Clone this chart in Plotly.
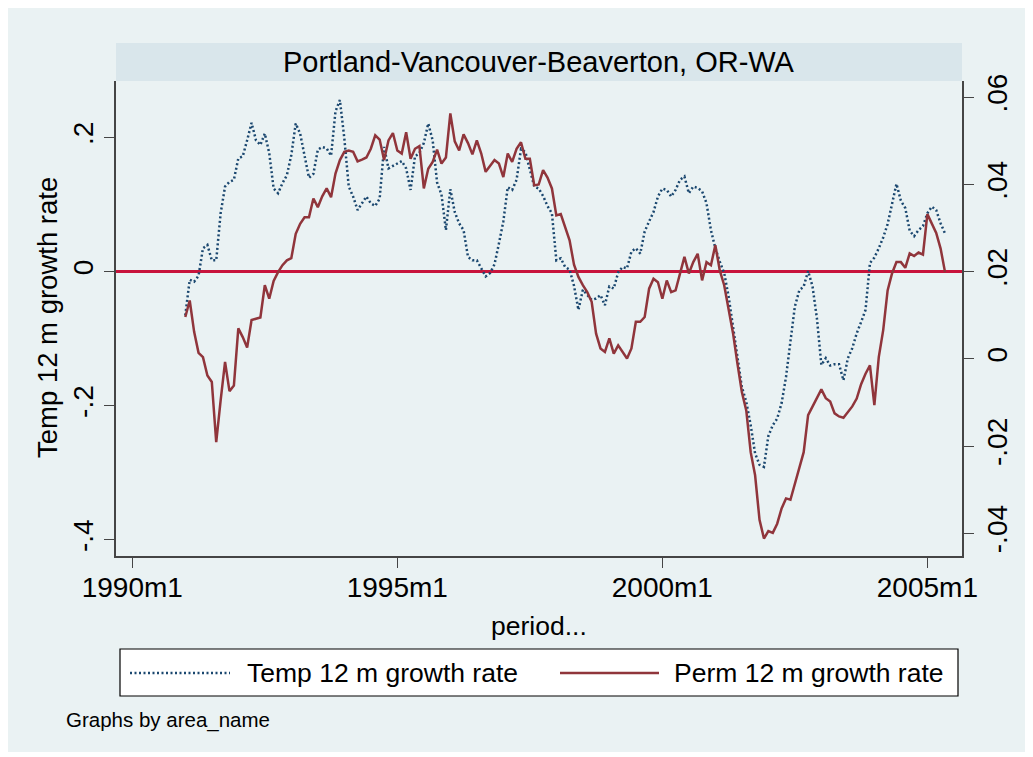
import plotly.graph_objects as go

W, H = 1033, 757
OFF = 8  # page body margin that shifts the whole figure

# months counted from 1990m1 (0 = 1990m1), first observation 1991m1
start_month = 12

temp_growth = [
    -0.065, -0.012, -0.015, -0.006, 0.035, 0.040, 0.017, 0.017, 0.087, 0.127, 0.134, 0.137,
    0.169, 0.172, 0.196, 0.222, 0.196, 0.189, 0.206, 0.177, 0.124, 0.117, 0.132, 0.144,
    0.174, 0.221, 0.206, 0.172, 0.140, 0.146, 0.182, 0.186, 0.184, 0.173, 0.239, 0.256,
    0.199, 0.127, 0.112, 0.092, 0.102, 0.112, 0.102, 0.098, 0.109, 0.186, 0.154, 0.158,
    0.161, 0.165, 0.154, 0.122, 0.172, 0.177, 0.192, 0.221, 0.196, 0.133, 0.115, 0.062,
    0.123, 0.089, 0.072, 0.062, 0.022, 0.017, 0.017, 0.005, -0.007, -0.002, 0.011, 0.042,
    0.075, 0.126, 0.122, 0.137, 0.183, 0.178, 0.154, 0.127, 0.124, 0.113, 0.098, 0.087,
    0.017, 0.020, 0.007, 0.003, -0.021, -0.057, -0.027, -0.035, -0.042, -0.040, -0.035, -0.050,
    -0.022, -0.025, -0.001, 0.007, 0.005, 0.030, 0.035, 0.027, 0.060, 0.075, 0.089, 0.112,
    0.124, 0.122, 0.112, 0.122, 0.137, 0.142, 0.117, 0.127, 0.125, 0.120, 0.102, 0.062,
    0.035, 0.015, -0.002, -0.037, -0.084, -0.127, -0.172, -0.194, -0.229, -0.271, -0.288, -0.291,
    -0.245, -0.229, -0.219, -0.196, -0.157, -0.104, -0.052, -0.028, -0.022, 0.001, -0.022, -0.070,
    -0.139, -0.129, -0.140, -0.138, -0.138, -0.162, -0.129, -0.114, -0.092, -0.075, -0.057, 0.013,
    0.021, 0.035, 0.051, 0.071, 0.099, 0.131, 0.106, 0.095, 0.061, 0.053, 0.062, 0.068,
    0.087, 0.097, 0.092, 0.072, 0.057,
]

perm_growth = [
    0.0096, 0.0134, 0.0062, 0.0014, 0.0004, -0.0038, -0.0053, -0.0191, -0.0095, -0.0007, -0.0074, -0.0061,
    0.0070, 0.0050, 0.0026, 0.0089, 0.0092, 0.0095, 0.0169, 0.0138, 0.0179, 0.0199, 0.0215, 0.0226,
    0.0231, 0.0287, 0.0310, 0.0325, 0.0325, 0.0368, 0.0348, 0.0373, 0.0391, 0.0371, 0.0425, 0.0456,
    0.0475, 0.0478, 0.0475, 0.0453, 0.0457, 0.0462, 0.0482, 0.0513, 0.0503, 0.0456, 0.0501, 0.0518,
    0.0478, 0.0471, 0.0520, 0.0459, 0.0482, 0.0488, 0.0391, 0.0436, 0.0452, 0.0480, 0.0448, 0.0462,
    0.0563, 0.0499, 0.0478, 0.0515, 0.0495, 0.0469, 0.0501, 0.0471, 0.0429, 0.0442, 0.0456, 0.0448,
    0.0417, 0.0471, 0.0452, 0.0482, 0.0497, 0.0459, 0.0459, 0.0398, 0.0400, 0.0433, 0.0416, 0.0391,
    0.0329, 0.0332, 0.0304, 0.0272, 0.0216, 0.0188, 0.0169, 0.0153, 0.0131, 0.0058, 0.0024, 0.0016,
    0.0047, 0.0012, 0.0031, 0.0016, 0.0001, 0.0024, 0.0085, 0.0085, 0.0096, 0.0161, 0.0184, 0.0176,
    0.0138, 0.0180, 0.0153, 0.0157, 0.0196, 0.0234, 0.0196, 0.0222, 0.0241, 0.0180, 0.0222, 0.0215,
    0.0261, 0.0203, 0.0169, 0.0111, 0.0059, -0.0011, -0.0076, -0.0118, -0.0214, -0.0267, -0.0369, -0.0412,
    -0.0395, -0.0399, -0.0378, -0.0343, -0.0320, -0.0323, -0.0286, -0.0248, -0.0214, -0.0129, -0.0110, -0.0091,
    -0.0070, -0.0090, -0.0098, -0.0125, -0.0132, -0.0135, -0.0122, -0.0109, -0.0091, -0.0058, -0.0034, -0.0015,
    -0.0106, 0.0004, 0.0066, 0.0157, 0.0196, 0.0222, 0.0222, 0.0209, 0.0242, 0.0236, 0.0244, 0.0239,
    0.0332, 0.0310, 0.0289, 0.0253, 0.0199,
]

tick_months = [0, 60, 120, 180]
tick_labels = ["1990m1", "1995m1", "2000m1", "2005m1"]
left_ticks = [-0.4, -0.2, 0, 0.2]
left_labels = ["-.4", "-.2", "0", ".2"]
right_ticks = [-0.04, -0.02, 0, 0.02, 0.04, 0.06]
right_labels = ["-.04", "-.02", "0", ".02", ".04", ".06"]

area_name = "Portland-Vancouver-Beaverton, OR-WA"
temp_name = "Temp 12 m growth rate"
perm_name = "Perm 12 m growth rate"

months = list(range(start_month, start_month + len(temp_growth)))

NAVY = "#1a476f"
MAROON = "#90353b"
CRIMSON = "#c8143c"
BG = "#eaf2f3"
STRIP = "#d9e6eb"
AXIS = "#454545"
FONT = "Liberation Sans, Arial, sans-serif"


def fx(px):
    return (px - OFF) / W


def fy(py):
    return 1 - (py - OFF) / H


fig = go.Figure()
fig.add_trace(go.Scatter(x=months, y=temp_growth, name=temp_name, mode="lines",
                         line=dict(color=NAVY, width=2.5, dash="2px,2.5px"), yaxis="y"))
fig.add_trace(go.Scatter(x=months, y=perm_growth, name=perm_name, mode="lines",
                         line=dict(color=MAROON, width=2.5), yaxis="y2"))

axis_common = dict(showline=True, linecolor=AXIS, linewidth=1.5, ticks="outside",
                   ticklen=10, tickwidth=1.2, tickcolor=AXIS,
                   tickfont=dict(family=FONT, size=28, color="black"))

fig.update_layout(
    width=W, height=H,
    margin=dict(l=0, r=0, t=0, b=0, autoexpand=False),
    paper_bgcolor="white", plot_bgcolor="white",
    showlegend=False,
    xaxis=dict(domain=[fx(116), fx(962)], range=[-3.69, 187.84],
               tickvals=tick_months, ticktext=tick_labels, showgrid=False,
               zeroline=False, ticklabelstandoff=-4, **axis_common),
    yaxis=dict(domain=[fy(556), fy(81)], range=[-0.424, 0.2844],
               tickvals=left_ticks, ticktext=left_labels, tickangle=-90,
               showgrid=True, gridcolor=BG, gridwidth=2,
               zeroline=True, zerolinecolor=CRIMSON, zerolinewidth=2.5,
               **axis_common),
    yaxis2=dict(domain=[fy(556), fy(81)], range=[-0.04521, 0.06374], overlaying="y",
                side="right", anchor="x", tickvals=right_ticks, ticktext=right_labels,
                tickangle=-90, showgrid=False, zeroline=False, **axis_common),
)

shapes = [
    dict(type="rect", xref="paper", yref="paper", x0=fx(8), x1=fx(1028), y0=fy(752), y1=fy(8),
         fillcolor=BG, line=dict(width=0), layer="below"),
    dict(type="rect", xref="paper", yref="paper", x0=fx(116), x1=fx(962), y0=fy(81), y1=fy(43),
         fillcolor=STRIP, line=dict(width=0), layer="below"),
    # legend box and keys
    dict(type="rect", xref="paper", yref="paper", x0=fx(120), x1=fx(958), y0=fy(696), y1=fy(649),
         fillcolor="white", line=dict(color="black", width=1.2)),
    dict(type="line", xref="paper", yref="paper", x0=fx(130), x1=fx(230), y0=fy(673), y1=fy(673),
         line=dict(color=NAVY, width=2.5, dash="2px,2.5px")),
    dict(type="line", xref="paper", yref="paper", x0=fx(560), x1=fx(659), y0=fy(673), y1=fy(673),
         line=dict(color=MAROON, width=2.5)),
]

annotations = [
    dict(text=area_name, x=fx(539), y=fy(62), xanchor="center", yanchor="middle",
         font=dict(family=FONT, size=29, color="black")),
    dict(text="period...", x=fx(539), y=fy(626), xanchor="center", yanchor="middle",
         font=dict(family=FONT, size=26.5, color="black")),
    dict(text=temp_name, x=fx(47), y=fy(318), xanchor="center", yanchor="middle", textangle=-90,
         font=dict(family=FONT, size=27.5, color="black")),
    dict(text=temp_name, x=fx(245), y=fy(673), xanchor="left", yanchor="middle",
         font=dict(family=FONT, size=26.5, color="black")),
    dict(text=perm_name, x=fx(672), y=fy(673), xanchor="left", yanchor="middle",
         font=dict(family=FONT, size=26.5, color="black")),
    dict(text="Graphs by area_name", x=fx(64), y=fy(720), xanchor="left", yanchor="middle",
         font=dict(family=FONT, size=20.5, color="black")),
]
for a in annotations:
    a.update(xref="paper", yref="paper", showarrow=False)

fig.update_layout(shapes=shapes, annotations=annotations)

fig.write_html("out.html")
